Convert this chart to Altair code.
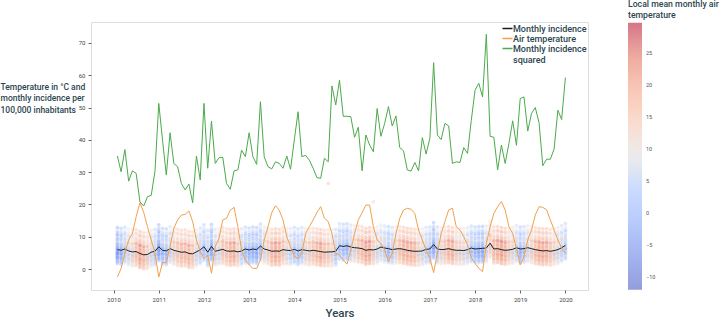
import altair as alt
import pandas as pd

# Month index: 1 = first month of 2010, plotted at 2010 + m/12
months = list(range(1, 121))

# Mean monthly incidence per 100,000 inhabitants
incidence = [
    6.0, 5.8, 6.2, 5.6, 5.3, 5.4, 4.8, 4.4, 4.5, 5.2, 5.5, 6.9,
    5.8, 5.6, 6.3, 5.8, 5.5, 5.2, 5.3, 4.8, 4.7, 5.3, 5.9, 6.9,
    5.2, 7.0, 5.5, 5.8, 6.1, 5.6, 5.5, 5.6, 5.3, 5.6, 6.2, 5.9,
    6.2, 6.0, 7.1, 6.2, 5.9, 5.5, 5.6, 5.5, 6.0, 5.8, 5.7, 6.1,
    5.6, 6.0, 5.8, 5.6, 5.8, 5.6, 5.4, 5.2, 5.3, 5.3, 5.5, 7.2,
    7.0, 7.2, 6.8, 6.6, 6.5, 6.3, 5.8, 6.0, 5.9, 6.2, 6.8, 6.5,
    6.3, 6.0, 6.2, 6.3, 6.1, 5.8, 5.6, 5.5, 5.5, 5.6, 6.1, 6.2,
    7.6, 6.2, 6.0, 6.1, 6.3, 6.0, 5.8, 5.8, 5.7, 6.0, 6.5, 6.2,
    6.3, 6.4, 6.5, 8.0, 6.2, 6.3, 6.0, 5.8, 5.9, 6.1, 6.6, 6.2,
    6.3, 6.6, 6.3, 6.0, 5.8, 5.6, 5.7, 5.5, 5.7, 6.0, 6.6, 7.3,
]

# Regional mean monthly air temperature (°C)
air_temp = [
    -2.5, 0.2, 4.9, 9.0, 11.0, 16.2, 20.5, 17.5, 13.1, 9.0, 4.9, -2.5,
    2.0, 2.0, 6.9, 12.6, 15.2, 16.7, 16.9, 18.0, 14.7, 9.0, 5.5, 3.3,
    4.3, -1.3, 7.0, 9.5, 15.2, 15.7, 18.2, 19.1, 13.1, 5.9, 2.8, 1.3,
    0.2, 0.2, 2.8, 9.0, 13.1, 17.4, 19.6, 18.2, 15.2, 10.0, 6.9, 4.0,
    3.3, 4.9, 11.0, 13.1, 15.2, 17.5, 19.3, 15.7, 14.7, 11.0, 4.9, 4.3,
    2.8, 1.5, 5.9, 11.0, 15.2, 17.4, 19.8, 19.8, 13.1, 9.0, 7.9, 5.9,
    2.3, 4.9, 11.0, 15.7, 18.3, 18.8, 18.5, 17.2, 12.1, 9.0, 5.9, 3.3,
    -1.1, 4.9, 11.0, 14.7, 18.3, 18.8, 13.1, 12.1, 10.0, 7.5, 3.5, 1.8,
    0.2, -0.8, 7.9, 13.1, 17.2, 19.3, 20.9, 18.3, 13.1, 11.0, 6.4, 1.3,
    3.8, 9.0, 12.1, 16.7, 19.3, 19.1, 18.3, 15.2, 12.1, 9.0, 6.5, 4.9,
]

# Squared monthly incidence
incidence_sq = [
    35.0, 30.1, 37.0, 27.2, 30.4, 29.6, 20.8, 19.5, 22.4, 22.8, 30.4, 51.3,
    39.9, 29.1, 42.2, 32.7, 31.7, 26.5, 24.5, 26.3, 20.5, 35.0, 27.6, 51.3,
    31.2, 45.8, 32.7, 34.5, 34.6, 26.5, 24.7, 30.4, 30.7, 36.8, 34.8, 42.2,
    34.8, 32.4, 51.8, 34.8, 31.7, 31.0, 33.2, 32.7, 31.2, 35.0, 30.9, 40.0,
    48.7, 34.8, 35.2, 33.7, 31.2, 28.3, 28.1, 34.3, 33.2, 56.7, 50.8, 58.5,
    47.3, 47.3, 47.2, 40.8, 43.9, 30.4, 41.5, 38.4, 36.3, 49.7, 41.1, 45.1,
    50.3, 44.3, 47.4, 37.6, 36.6, 30.7, 30.3, 33.0, 30.4, 40.7, 35.6, 40.5,
    63.9, 41.5, 40.1, 45.1, 44.3, 32.7, 33.2, 33.0, 37.6, 35.8, 46.0, 55.4,
    57.5, 53.3, 72.7, 41.1, 40.8, 30.7, 38.4, 32.7, 38.9, 45.9, 38.3, 52.8,
    53.3, 42.7, 48.2, 50.0, 45.3, 32.0, 34.0, 34.0, 37.2, 49.2, 46.3, 59.3,
]

# Local (district) deviations from the regional means
district_inc_dev = [-4.3, -3.7, -3.2, -2.8, -2.4, -2.1, -1.8, -1.5, -1.2, -0.9, -0.6, -0.3,
                    0.1, 0.4, 0.8, 1.2, 1.6, 2.1, 2.6, 3.2, 3.9, 4.7, 5.6, 6.8]
district_temp_dev = [1.5, -3.0, 0.5, 2.5, -6.5, 1.0, -1.5, 3.0, -0.5, -10.0, 2.0, 0.0,
                     -2.5, 1.8, -4.5, 2.8, 0.8, -1.0, 8.5, -2.0, 1.2, -5.5, 2.2, -0.8]

# Isolated high local values
outlier_month = [57, 69]
outlier_inc = [26.5, 20.8]
outlier_temp = [16.0, 13.0]

series_names = ["Monthly incidence", "Air temperature", "Monthly incidence squared"]
series_colors = ["#1a1a1a", "#f2a04c", "#4caa4c"]

lines_rows = []
for name, vals in zip(series_names, [incidence, air_temp, incidence_sq]):
    for m, v in zip(months, vals):
        lines_rows.append({"series": name, "year": 2010 + m / 12, "value": v})
lines_df = pd.DataFrame(lines_rows)

point_rows = []
for i, m in enumerate(months):
    for di, dt in zip(district_inc_dev, district_temp_dev):
        point_rows.append({"year": 2010 + m / 12,
                           "local_inc": incidence[i] + di,
                           "local_temp": air_temp[i] + dt})
for m, v, t in zip(outlier_month, outlier_inc, outlier_temp):
    point_rows.append({"year": 2010 + m / 12, "local_inc": v, "local_temp": t})
points_df = pd.DataFrame(point_rows)

FONT = "Roboto"
TXT = "#2b4650"

x_scale = alt.Scale(domain=[2009.5, 2020.5], nice=False, zero=False)
y_scale = alt.Scale(domain=[-6.5, 76.5], nice=False, zero=False)

x_axis = alt.Axis(values=list(range(2010, 2021)), format="d", grid=False, domain=False,
                  tickSize=3, tickColor="#666", labelFontSize=6, labelColor="#444",
                  labelPadding=3, labelOverlap=False, title="Years", titleFont=FONT,
                  titleFontSize=11.5, titleFontWeight=500, titleColor=TXT, titlePadding=5)
y_axis = alt.Axis(values=list(range(0, 80, 10)), grid=False, domain=False,
                  tickSize=3, tickColor="#666", labelFontSize=6, labelColor="#444",
                  labelPadding=3, labelOverlap=False,
                  title=["Temperature in °C and", "monthly incidence per", "100,000 inhabitants"],
                  titleAngle=0, titleAlign="left", titleBaseline="top",
                  titleX=-91, titleY=60, titleFont=FONT, titleFontSize=8.5,
                  titleFontWeight=500, titleLineHeight=11.5, titleColor=TXT)

coolwarm_domain = [-12.0, -6.8, -1.6, 3.6, 8.85, 14.1, 19.3, 24.5, 29.7]
coolwarm_range = ["#3b4cc0", "#5977e3", "#7b9ff9", "#9ebeff", "#dddddd",
                  "#f6bfa6", "#f49a7b", "#de6651", "#b40426"]

temp_legend = alt.Legend(
    orient="none", legendX=537, legendY=-22, direction="vertical",
    title=["Local mean monthly air", "temperature"], titleFont=FONT, titleFontSize=8.7,
    titleFontWeight=500, titleColor=TXT, titleLineHeight=11, titlePadding=3,
    titleLimit=200,
    gradientLength=267, gradientThickness=14, gradientOpacity=0.55,
    gradientStrokeWidth=0, values=[-10, -5, 0, 5, 10, 15, 20, 25],
    labelFontSize=5.5, labelColor="#555", labelOffset=4,
    labelExpr="replace(datum.label, '-', '\u2212')",
)

points = alt.Chart(points_df).mark_circle(size=14, opacity=0.34).encode(
    x=alt.X("year:Q", scale=x_scale, axis=x_axis),
    y=alt.Y("local_inc:Q", scale=y_scale, axis=y_axis),
    fill=alt.Fill("local_temp:Q",
                  scale=alt.Scale(domain=coolwarm_domain, range=coolwarm_range,
                                  interpolate="rgb"),
                  legend=temp_legend),
)

# short horizontal stroke as the legend key; rows packed tightly
line_legend = alt.Legend(
    orient="none", legendX=412, legendY=2, title=None, symbolType="M-2,0L2,0",
    symbolStrokeWidth=1.5, symbolSize=25, labelFont=FONT, labelFontSize=9,
    labelFontWeight=500, labelColor=TXT, labelOffset=1, rowPadding=-5,
    labelExpr="datum.label == 'Monthly incidence squared' ? ['Monthly incidence', 'squared'] : datum.label",
)

lines = alt.Chart(lines_df).mark_line(strokeWidth=1).encode(
    x=alt.X("year:Q", scale=x_scale, axis=x_axis),
    y=alt.Y("value:Q", scale=y_scale, axis=y_axis),
    stroke=alt.Stroke("series:N", sort=series_names,
                      scale=alt.Scale(domain=series_names, range=series_colors),
                      legend=line_legend),
)

chart = alt.layer(points, lines).properties(
    width=497, height=268,
    autosize=alt.AutoSizeParams(type="none"),
    padding={"left": 91, "top": 22, "right": 133, "bottom": 29},
).configure_view(stroke="#9a9a9a", strokeWidth=1).configure(font=FONT, background="white")

chart.save("out.html", embed_options={"renderer": "svg", "actions": False})
